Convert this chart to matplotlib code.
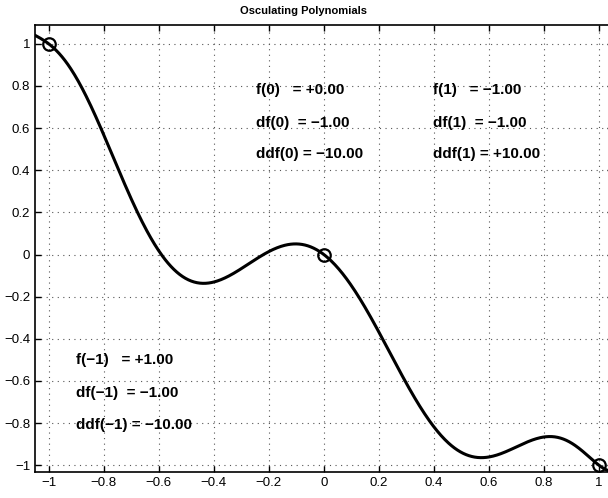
import numpy as np
import matplotlib
matplotlib.use("Agg")
import matplotlib.pyplot as plt

# interpolation conditions shown on the chart
nodes = [-1.0, 0.0, 1.0]
f_vals = [1.0, 0.0, -1.0]
df_vals = [-1.0, -1.0, -1.0]
ddf_vals = [-10.0, -10.0, 10.0]
node_names = ["\u22121", "0", "1"]

plt.rcParams["font.family"] = ["Liberation Sans", "DejaVu Sans"]

# osculating polynomial of degree 8 matching f, f', f'' at the nodes
deg = 3 * len(nodes) - 1
A, b = [], []
for xk, f0, f1, f2 in zip(nodes, f_vals, df_vals, ddf_vals):
    p = np.arange(deg + 1)
    A.append(xk ** p)
    A.append(np.where(p >= 1, p * xk ** np.clip(p - 1, 0, None), 0))
    A.append(np.where(p >= 2, p * (p - 1) * xk ** np.clip(p - 2, 0, None), 0))
    b += [f0, f1, f2]
coef = np.linalg.solve(np.array(A, float), np.array(b))
xs = np.linspace(-1.05, 1.05, 600)
ys = np.polyval(coef[::-1], xs)

fig = plt.figure(figsize=(6.08, 4.98), dpi=100)
ax = fig.add_axes([0.0576, 0.052, 0.95, 0.898])
ax.plot(xs, ys, color="black", lw=2.2)
ax.plot(nodes, f_vals, "o", mfc="none", mec="black", ms=9, mew=1.6)

def tick_label(t):
    t = 0.0 if abs(t) < 1e-9 else t
    return f"{t:g}".replace("-", "\u2212")

ticks = np.round(np.arange(-1, 1.01, 0.2), 1)
ax.set_xlim(-1.05, 1.05)
ax.set_ylim(-1.033, 1.09)
ax.set_xticks(ticks)
ax.set_yticks(ticks)
ax.set_xticklabels([tick_label(t) for t in ticks])
ax.set_yticklabels([tick_label(t) for t in ticks])
ax.tick_params(direction="in", top=True, right=True, labelsize=9.5, length=4, width=1)
ax.grid(True, linestyle=(0, (1, 4)), color="#555555", lw=0.8)
for s in ax.spines.values():
    s.set_linewidth(1.2)

def fmt(v):
    return ("+" if v >= 0 else "\u2212") + f"{abs(v):.2f}"

text_pos = [(-0.9, [-0.50, -0.658, -0.81]), (-0.245, [0.78, 0.625, 0.475]), (0.397, [0.78, 0.625, 0.475])]
for (tx, rows), nm, f0, f1, f2 in zip(text_pos, node_names, f_vals, df_vals, ddf_vals):
    labels = [f"f({nm})   = {fmt(f0)}", f"df({nm})  = {fmt(f1)}", f"ddf({nm}) = {fmt(f2)}"]
    for ty, s in zip(rows, labels):
        ax.text(tx, ty, s, fontsize=11, fontweight="bold", va="center", ha="left")

fig.text(0.5, 0.978, "Osculating Polynomials", ha="center", va="center", fontsize=8, fontweight="bold")
fig.savefig("out.png", dpi=100)
